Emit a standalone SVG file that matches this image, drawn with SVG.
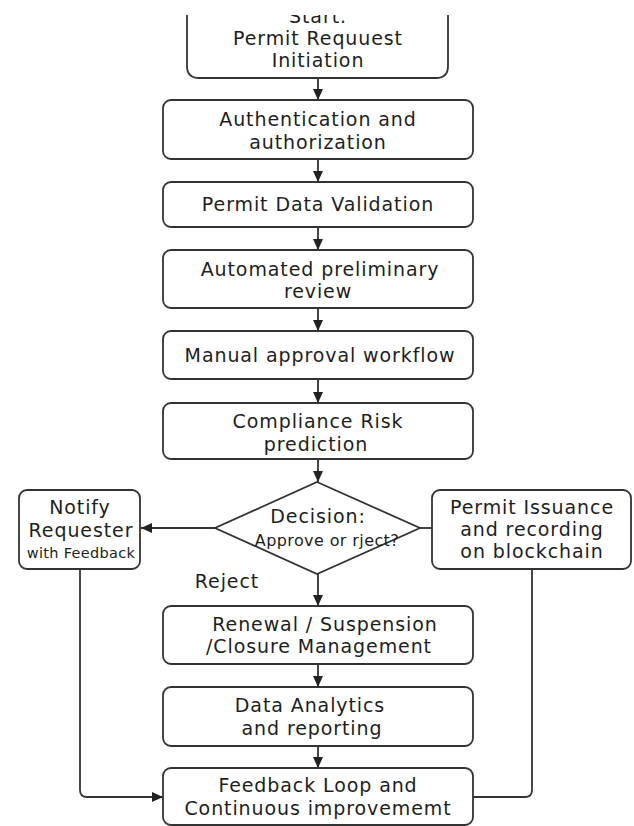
<svg xmlns="http://www.w3.org/2000/svg" width="634" height="826" viewBox="0 0 634 826">
<style>
  .box{fill:#fff;stroke:#333;stroke-width:1.8}
  .line{fill:none;stroke:#333;stroke-width:1.8}
  text{font-family:"DejaVu Sans","Liberation Sans",sans-serif;fill:#1e1e1e;text-anchor:middle;font-size:19px;letter-spacing:0.9px}
  .sm{font-size:14.5px;letter-spacing:0.3px}
  .dq{font-size:16px;letter-spacing:0.4px}
</style>
<defs>
  <marker id="ah" markerUnits="userSpaceOnUse" markerWidth="12" markerHeight="12" refX="11" refY="6" orient="auto">
    <path d="M0,1 L11,6 L0,11 z" fill="#222"/>
  </marker>
  <clipPath id="topclip"><rect x="0" y="15" width="634" height="811"/></clipPath>
</defs>
<rect width="634" height="826" fill="#fff"/>

<g id="connectors">
  <path class="line" d="M318,78 V100" marker-end="url(#ah)"/>
  <path class="line" d="M318,159 V182" marker-end="url(#ah)"/>
  <path class="line" d="M318,227 V250" marker-end="url(#ah)"/>
  <path class="line" d="M318,308 V331" marker-end="url(#ah)"/>
  <path class="line" d="M318,379 V403" marker-end="url(#ah)"/>
  <path class="line" d="M318,459 V482" marker-end="url(#ah)"/>
  <path class="line" d="M215,528 H141" marker-end="url(#ah)"/>
  <path class="line" d="M420,528 H432"/>
  <path class="line" d="M318,574 V606" marker-end="url(#ah)"/>
  <path class="line" d="M318,664 V687" marker-end="url(#ah)"/>
  <path class="line" d="M318,746 V768" marker-end="url(#ah)"/>
  <path class="line" d="M80,569 V790 Q80,797 87,797 H163" marker-end="url(#ah)"/>
  <path class="line" d="M532,569 V790 Q532,797 525,797 H473"/>
</g>

<g id="start" clip-path="url(#topclip)">
  <path class="box" d="M187,0 V66 Q187,78 199,78 H436 Q448,78 448,66 V0 Z"/>
  <text x="318" y="23">Start.</text>
  <text x="318" y="45">Permit Requuest</text>
  <text x="318" y="67">Initiation</text>
</g>

<g id="auth">
  <rect class="box" x="163" y="100" width="310" height="59" rx="8"/>
  <text x="318" y="126">Authentication and</text>
  <text x="318" y="149">authorization</text>
</g>

<g id="validation">
  <rect class="box" x="163" y="182" width="310" height="45" rx="8"/>
  <text x="318" y="211">Permit Data Validation</text>
</g>

<g id="automated">
  <rect class="box" x="163" y="250" width="310" height="58" rx="8"/>
  <text x="320" y="276">Automated preliminary</text>
  <text x="318" y="298">review</text>
</g>

<g id="manual">
  <rect class="box" x="163" y="331" width="310" height="48" rx="8"/>
  <text x="320" y="362">Manual approval workflow</text>
</g>

<g id="compliance">
  <rect class="box" x="163" y="403" width="310" height="56" rx="8"/>
  <text x="318" y="428">Compliance Risk</text>
  <text x="316" y="451">prediction</text>
</g>

<g id="decision">
  <path class="box" d="M317,482 L420,528 L317,574 L215,528 Z"/>
  <text x="318" y="523">Decision:</text>
  <text class="dq" x="327" y="546">Approve or rject?</text>
</g>

<g id="notify">
  <rect class="box" x="19" y="490" width="121" height="79" rx="8"/>
  <text x="80" y="514">Notify</text>
  <text x="81" y="537">Requester</text>
  <text class="sm" x="81" y="558">with Feedback</text>
</g>

<g id="issuance">
  <rect class="box" x="432" y="490" width="199" height="79" rx="8"/>
  <text x="532" y="514">Permit Issuance</text>
  <text x="532" y="536">and recording</text>
  <text x="532" y="558">on blockchain</text>
</g>

<text id="reject-label" x="227" y="588">Reject</text>

<g id="renewal">
  <rect class="box" x="163" y="606" width="310" height="58" rx="8"/>
  <text x="325" y="631">Renewal / Suspension</text>
  <text x="319" y="653">/Closure Management</text>
</g>

<g id="analytics">
  <rect class="box" x="163" y="687" width="310" height="59" rx="8"/>
  <text x="310" y="712">Data Analytics</text>
  <text x="312" y="735">and reporting</text>
</g>

<g id="feedback">
  <rect class="box" x="163" y="768" width="310" height="57" rx="8"/>
  <text x="318" y="792">Feedback Loop and</text>
  <text x="318" y="815">Continuous improvememt</text>
</g>
</svg>
